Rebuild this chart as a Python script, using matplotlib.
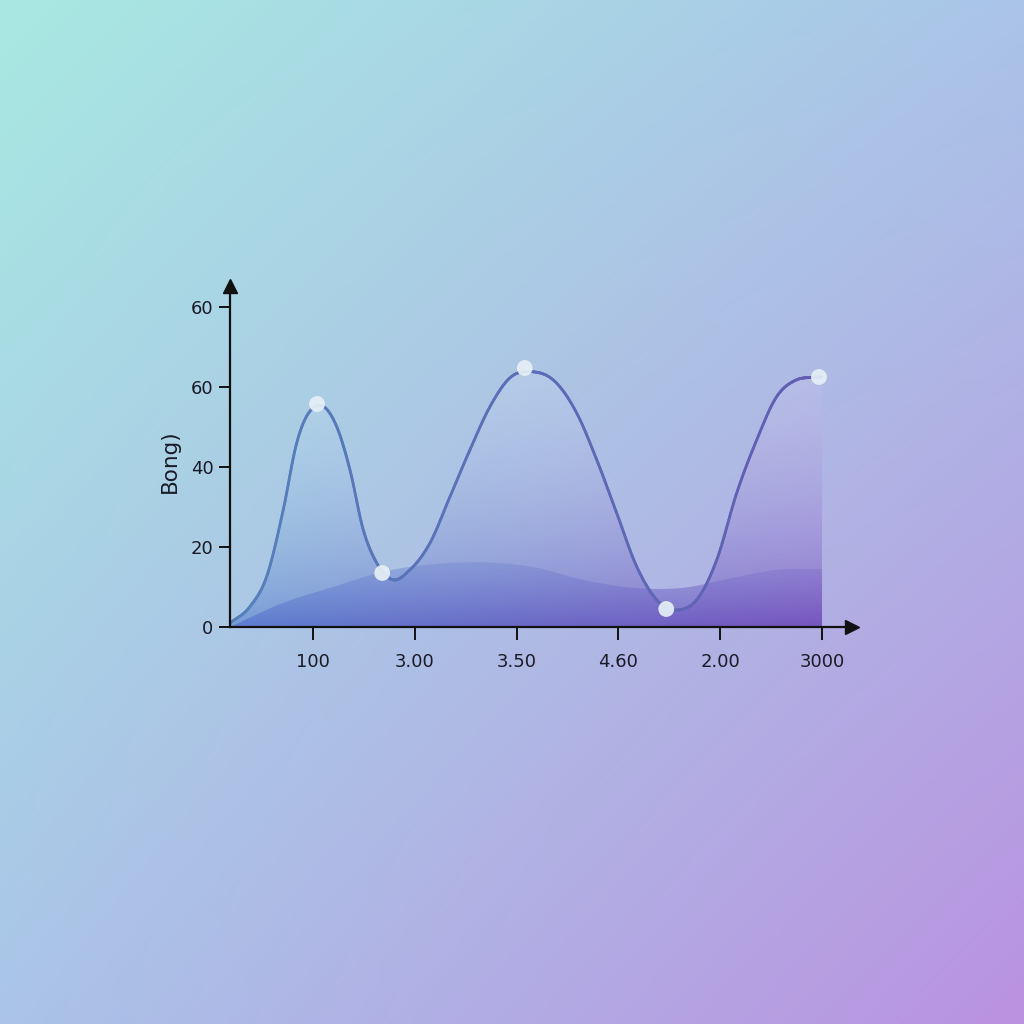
import numpy as np
import matplotlib
matplotlib.use('Agg')
import matplotlib.pyplot as plt
from matplotlib.path import Path
from matplotlib.patches import PathPatch
from matplotlib.collections import LineCollection

# ---------------- data ----------------
x_ticks = [1, 2, 3, 4, 5, 6]
x_tick_labels = ['100', '3.00', '3.50', '4.60', '2.00', '3000']
y_ticks = [0, 20, 40, 60, 80]
y_tick_labels = ['0', '20', '40', '60', '60']
y_label = 'Bong)'

curve_x = [0.185, 0.381, 0.545, 0.708, 0.840, 1.036, 1.233, 1.363, 1.494, 1.626,
           1.786, 1.953, 2.149, 2.346, 2.542, 2.739, 2.935, 3.161, 3.358, 3.590,
           3.787, 3.983, 4.180, 4.376, 4.605, 4.769, 4.966, 5.162, 5.359, 5.555,
           5.751, 5.900, 6.000]
curve_y = [1.0, 5.1, 12.6, 29.3, 46.0, 55.3, 50.1, 39.3, 24.3, 16.0,
           11.8, 14.3, 21.0, 32.6, 44.3, 55.1, 62.3, 63.8, 61.8, 53.5,
           41.8, 28.5, 15.1, 6.8, 4.3, 6.8, 16.8, 33.5, 46.8, 57.6,
           61.8, 62.4, 62.5]

wave_x = [0.185, 0.705, 1.196, 1.688, 2.346, 2.768, 3.161, 3.652, 4.143, 4.635,
          5.126, 5.558, 6.000]
wave_y = [0.0, 6.0, 10.0, 13.8, 16.0, 16.1, 15.0, 11.8, 9.8, 9.8,
          12.3, 14.3, 14.5]

marker_x = [1.04, 1.68, 3.08, 4.47, 5.97]
marker_y = [55.75, 13.5, 64.75, 4.5, 62.5]


def smooth(xs, ys, n=30):
    """Cubic Hermite rendering of the read points y(x) (for drawing only)."""
    x = np.asarray(xs, float)
    y = np.asarray(ys, float)
    h = np.diff(x)
    d = np.diff(y) / h
    m = np.empty_like(y)
    m[0] = d[0]
    m[-1] = d[-1]
    m[1:-1] = (d[:-1] * h[1:] + d[1:] * h[:-1]) / (h[:-1] + h[1:])
    ox, oy = [], []
    t = np.linspace(0, 1, n, endpoint=False)
    for i in range(len(x) - 1):
        h00 = 2 * t ** 3 - 3 * t ** 2 + 1
        h10 = t ** 3 - 2 * t ** 2 + t
        h01 = -2 * t ** 3 + 3 * t ** 2
        h11 = t ** 3 - t ** 2
        ox.append(x[i] + t * h[i])
        oy.append(h00 * y[i] + h10 * h[i] * m[i] + h01 * y[i + 1] + h11 * h[i] * m[i + 1])
    ox.append([x[-1]])
    oy.append([y[-1]])
    return np.concatenate(ox), np.concatenate(oy)


W = H = 1024
fig = plt.figure(figsize=(10.24, 10.24), dpi=100)

# ---------------- background gradient ----------------
bg = fig.add_axes([0, 0, 1, 1])
bg.set_axis_off()
tl = np.array([168, 233, 226]) / 255
tr = np.array([170, 196, 232]) / 255
bl = np.array([170, 196, 232]) / 255
br = np.array([186, 146, 224]) / 255
u = np.linspace(0, 1, 256)[None, :, None]
v = np.linspace(0, 1, 256)[:, None, None]
img = (1 - v) * ((1 - u) * tl + u * tr) + v * ((1 - u) * bl + u * br)
bg.imshow(img, extent=[0, 1, 0, 1], aspect='auto', origin='upper')
bg.set_xlim(0, 1)
bg.set_ylim(0, 1)

# ---------------- main axes ----------------
x_lo, x_hi = 0.185, 6.373
y_lo, y_hi = 0.0, 88.0
ax = fig.add_axes([230 / W, (H - 627) / H, 630 / W, 352 / H])
ax.patch.set_alpha(0)
ax.set_xlim(x_lo, x_hi)
ax.set_ylim(y_lo, y_hi)

cx, cy = smooth(curve_x, curve_y)
wx, wy = smooth(wave_x, wave_y)

# main area fill with gradient
verts = np.vstack([np.column_stack([cx, cy]), [[curve_x[-1], 0], [curve_x[0], 0], [cx[0], cy[0]]]])
codes = [Path.MOVETO] + [Path.LINETO] * (len(verts) - 2) + [Path.CLOSEPOLY]
main_patch = PathPatch(Path(verts, codes), facecolor='none', edgecolor='none')
ax.add_patch(main_patch)

NY, NX = 300, 300
gx = np.linspace(0, 1, NX)[None, :, None]
gy = np.linspace(1, 0, NY)[:, None, None]  # 1 at top
top_c = (1 - gx) * np.array([190, 230, 240]) / 255 + gx * np.array([198, 198, 238]) / 255
bot_c = (1 - gx) * np.array([112, 150, 212]) / 255 + gx * np.array([126, 96, 196]) / 255
mix = gy ** 0.8
col = bot_c * (1 - mix) + top_c * mix
alpha = np.broadcast_to(0.40 + 0.50 * (1 - gy) ** 1.3, (NY, NX, 1))
rgba = np.concatenate([col, alpha], axis=2)
im = ax.imshow(rgba, extent=[curve_x[0], curve_x[-1], 0, 66], aspect='auto',
               origin='upper', zorder=1, interpolation='bilinear')
im.set_clip_path(main_patch)

# lower wave fill
wverts = np.vstack([np.column_stack([wx, wy]), [[wave_x[-1], 0], [wave_x[0], 0], [wx[0], wy[0]]]])
wcodes = [Path.MOVETO] + [Path.LINETO] * (len(wverts) - 2) + [Path.CLOSEPOLY]
wave_patch = PathPatch(Path(wverts, wcodes), facecolor='none', edgecolor='none')
ax.add_patch(wave_patch)
WY, WX = 200, 300
wgy = np.linspace(1, 0, WY)[:, None, None]
wgx = np.linspace(0, 1, WX)[None, :, None]
wtop = (1 - wgx) * np.array([115, 155, 215]) / 255 + wgx * np.array([135, 125, 208]) / 255
wbot = (1 - wgx) * np.array([85, 115, 205]) / 255 + wgx * np.array([115, 78, 188]) / 255
wcol = wbot * (1 - wgy) + wtop * wgy
walpha = np.broadcast_to(0.50 + 0.25 * (1 - wgy), (WY, WX, 1))
wrgba = np.concatenate([wcol, walpha], axis=2)
wim = ax.imshow(wrgba, extent=[wave_x[0], wave_x[-1], 0, 17], aspect='auto',
                origin='upper', zorder=2, interpolation='bilinear')
wim.set_clip_path(wave_patch)

# gradient line
pts = np.column_stack([cx, cy]).reshape(-1, 1, 2)
segs = np.concatenate([pts[:-1], pts[1:]], axis=1)
f = np.linspace(0, 1, len(segs))[:, None]
lcol = (1 - f) * np.array([86, 128, 188]) / 255 + f * np.array([98, 92, 178]) / 255
lc = LineCollection(segs, colors=lcol, linewidths=2.0, zorder=4, capstyle='round',
                    joinstyle='round')
ax.add_collection(lc)

# markers
ax.scatter(marker_x, marker_y, s=130, color='#e6f0f8', alpha=0.92, edgecolors='none', zorder=5)

# ---------------- axes styling ----------------
for s in ['top', 'right']:
    ax.spines[s].set_visible(False)
ax.spines['left'].set_linewidth(1.6)
ax.spines['bottom'].set_linewidth(1.6)
ax.spines['left'].set_color('#111111')
ax.spines['bottom'].set_color('#111111')
ax.spines['left'].set_bounds(0, 85)
ax.spines['bottom'].set_bounds(x_lo, 6.3)
ax.spines['left'].set_zorder(6)
ax.spines['bottom'].set_zorder(6)

ax.plot([6.295], [0], marker='>', ms=10, color='#111111', clip_on=False, zorder=7)
ax.plot([x_lo], [85.2], marker='^', ms=10, color='#111111', clip_on=False, zorder=7)

ax.set_xticks(x_ticks)
ax.set_xticklabels(x_tick_labels)
ax.set_yticks(y_ticks)
ax.set_yticklabels(y_tick_labels)
ax.tick_params(axis='x', direction='out', length=9, width=1.4, color='#111111',
               labelsize=13, labelcolor='#1a1a28', pad=10)
ax.tick_params(axis='y', direction='out', length=8, width=1.4, color='#111111',
               labelsize=13, labelcolor='#1a1a28', pad=4)

ax.text(-0.095, 41.5, y_label, transform=ax.get_yaxis_transform(), rotation=90,
        ha='center', va='center', fontsize=15.5, color='#1a1a28')

fig.savefig('out.png', dpi=100)
